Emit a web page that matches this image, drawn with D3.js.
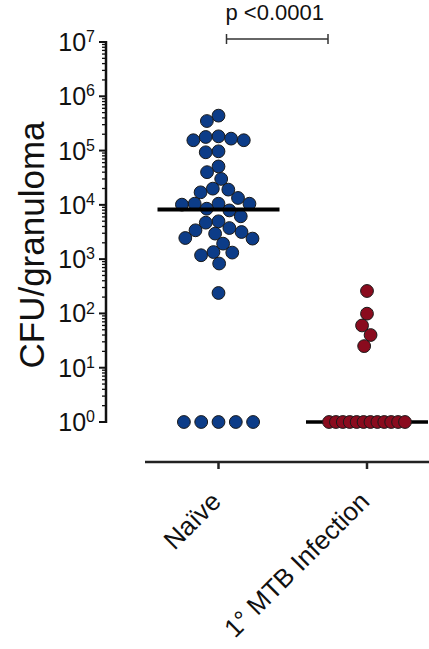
<!DOCTYPE html>
<html>
<head>
<meta charset="utf-8">
<script src="https://cdn.jsdelivr.net/npm/d3@7"></script>
<style>
  body { margin: 0; background: #fff; }
  svg text { font-family: "Liberation Sans", Arial, sans-serif; fill: #111; }
</style>
</head>
<body>
<div id="chart"></div>
<script>
// groups on the x axis
var groups = ["Naïve", "1° MTB Infection"];
// CFU per granuloma
var naiveCfu = [440000, 350000, 183000, 178000, 166000, 155000, 155000, 97000, 93000,
  51000, 40000, 30000, 19900, 19100, 17000, 13400, 10500, 10500, 10500, 10100, 8500,
  7900, 6150, 4980, 4700, 3740, 3400, 3160, 2950, 2450, 2390, 1930, 1350, 1320, 1180,
  830, 238, 1, 1, 1, 1, 1];
var mtbCfu = [259, 99, 60, 40, 25, 1, 1, 1, 1, 1, 1, 1, 1, 1, 1, 1, 1];
var groupColors = ["#0c3c88", "#8a0b1e"];
var pLabel = "p <0.0001";
var yTicks = [0, 1, 2, 3, 4, 5, 6, 7]; // exponents

var w = 429, h = 649;
var dotR = 6.4, minGap = 12.8, rowStep = 17.3, halfWidth = 38, medianHalf = 61;

var svg = d3.select("#chart").append("svg")
    .attr("width", w)
    .attr("height", h);

var yScale = d3.scaleLog().domain([1, 1e7]).range([422, 42]);
var xScale = d3.scalePoint().domain(groups).range([218.5, 367]);

// y axis
var yAxisX = 106;
var yAxisG = svg.append("g");
yAxisG.append("line")
    .attr("x1", yAxisX).attr("x2", yAxisX)
    .attr("y1", yScale(1e7) - 1).attr("y2", yScale(1) + 1)
    .attr("stroke", "#111").attr("stroke-width", 2.5);

var minorTicks = [];
for (var k = 0; k < 7; k++) {
  for (var m = 2; m < 10; m++) minorTicks.push(m * Math.pow(10, k));
}
yAxisG.selectAll("line.minor").data(minorTicks).enter().append("line")
    .attr("class", "minor")
    .attr("x1", yAxisX - 4).attr("x2", yAxisX)
    .attr("y1", function(d) { return yScale(d); })
    .attr("y2", function(d) { return yScale(d); })
    .attr("stroke", "#111").attr("stroke-width", 1.3);

yAxisG.selectAll("line.major").data(yTicks).enter().append("line")
    .attr("class", "major")
    .attr("x1", yAxisX - 7).attr("x2", yAxisX)
    .attr("y1", function(d) { return yScale(Math.pow(10, d)); })
    .attr("y2", function(d) { return yScale(Math.pow(10, d)); })
    .attr("stroke", "#111").attr("stroke-width", 2);

var tickText = yAxisG.selectAll("text.tick").data(yTicks).enter().append("text")
    .attr("class", "tick")
    .attr("x", 95)
    .attr("y", function(d) { return yScale(Math.pow(10, d)) + 9; })
    .attr("text-anchor", "end")
    .style("font-size", "25px");
tickText.append("tspan").text("10");
tickText.append("tspan")
    .attr("dy", "-0.55em")
    .style("font-size", "16px")
    .text(function(d) { return d; });

svg.append("text")
    .attr("transform", "translate(44," + 245 + ") rotate(-90)")
    .attr("text-anchor", "middle")
    .style("font-size", "35px")
    .text("CFU/granuloma");

// x axis
var xAxisY = 462;
svg.append("line")
    .attr("x1", 145).attr("x2", w)
    .attr("y1", xAxisY).attr("y2", xAxisY)
    .attr("stroke", "#222").attr("stroke-width", 2.5);
svg.selectAll("line.xtick").data(groups).enter().append("line")
    .attr("class", "xtick")
    .attr("x1", function(d) { return xScale(d); })
    .attr("x2", function(d) { return xScale(d); })
    .attr("y1", xAxisY).attr("y2", xAxisY + 7)
    .attr("stroke", "#222").attr("stroke-width", 2.5);
svg.selectAll("text.xlabel").data(groups).enter().append("text")
    .attr("class", "xlabel")
    .attr("text-anchor", "end")
    .attr("transform", function(d) {
      return "translate(" + (xScale(d) + 4) + ",503) rotate(-45)";
    })
    .style("font-size", "26px")
    .text(function(d) { return d; });

// scatter layout: ties of 5 or more go in a row, the rest as a swarm
var layout = function(values, cx) {
  var counts = d3.rollup(values, function(v) { return v.length; }, function(d) { return d; });
  var placed = [], out = [];
  var swarmVals = values.filter(function(v) { return counts.get(v) < 5; })
      .sort(function(a, b) { return b - a; });
  swarmVals.forEach(function(v) {
    var y = yScale(v);
    var cands = [0];
    placed.forEach(function(p) {
      var dy = Math.abs(p.y - y);
      if (dy < minGap) {
        var dx = Math.sqrt(minGap * minGap - dy * dy);
        cands.push(p.dx - dx, p.dx + dx);
      }
    });
    cands.sort(function(a, b) { return Math.abs(a) - Math.abs(b); });
    var pick = cands.find(function(c) {
      return placed.every(function(p) {
        return (c - p.dx) * (c - p.dx) + (y - p.y) * (y - p.y) >= minGap * minGap - 0.01;
      });
    });
    placed.push({dx: pick, y: y});
    out.push({x: cx + pick, y: y, v: v});
  });
  counts.forEach(function(n, v) {
    if (n < 5) return;
    var step = Math.min(rowStep, 2 * halfWidth / (n - 1));
    for (var i = 0; i < n; i++) {
      out.push({x: cx + (i - (n - 1) / 2) * step, y: yScale(v), v: v});
    }
  });
  return out;
};

var series = [naiveCfu, mtbCfu];
series.forEach(function(vals, gi) {
  var cx = xScale(groups[gi]);
  var pts = layout(vals, cx);
  var med = d3.median(vals);
  var g = svg.append("g");
  if (gi == 0) {
    g.selectAll("circle").data(pts).enter().append("circle")
        .attr("cx", function(d) { return d.x; })
        .attr("cy", function(d) { return d.y; })
        .attr("r", dotR)
        .attr("fill", groupColors[gi])
        .attr("stroke", "#1a1a1a").attr("stroke-width", 1);
    g.append("line")
        .attr("x1", cx - medianHalf).attr("x2", cx + medianHalf)
        .attr("y1", yScale(med)).attr("y2", yScale(med))
        .attr("stroke", "#000").attr("stroke-width", 4);
  } else {
    g.append("line")
        .attr("x1", cx - medianHalf).attr("x2", cx + medianHalf)
        .attr("y1", yScale(med)).attr("y2", yScale(med))
        .attr("stroke", "#000").attr("stroke-width", 3.5);
    g.selectAll("circle").data(pts).enter().append("circle")
        .attr("cx", function(d) { return d.x; })
        .attr("cy", function(d) { return d.y; })
        .attr("r", dotR)
        .attr("fill", groupColors[gi])
        .attr("stroke", "#1a1a1a").attr("stroke-width", 1);
  }
});

// significance bracket
var bx1 = xScale(groups[0]) + 8, bx2 = xScale(groups[1]) - 39, by = 39;
svg.append("line")
    .attr("x1", bx1).attr("x2", bx2).attr("y1", by).attr("y2", by)
    .attr("stroke", "#333").attr("stroke-width", 1.5);
[bx1, bx2].forEach(function(x) {
  svg.append("line")
      .attr("x1", x).attr("x2", x).attr("y1", by - 5).attr("y2", by + 5)
      .attr("stroke", "#333").attr("stroke-width", 1.5);
});
svg.append("text")
    .attr("x", bx1 - 1).attr("y", 20)
    .style("font-size", "22px")
    .text(pLabel);
</script>
</body>
</html>
